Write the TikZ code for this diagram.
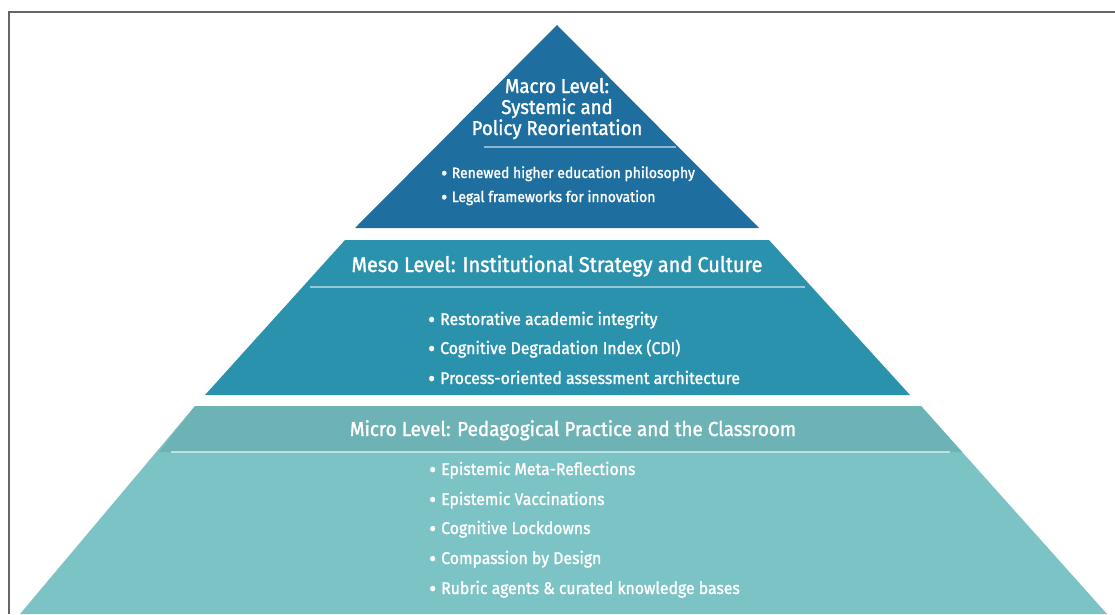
\documentclass[tikz,border=0pt]{standalone}
\usepackage{fontspec}
\setmainfont{Fira Sans}[FakeStretch=0.93,FakeBold=1.5]
\newcommand{\dotmark}{\raisebox{-0.14em}{\scalebox{1.35}{\textbullet}}\hspace{0.3em}}
\begin{document}
\begin{tikzpicture}[x=1pt,y=-1pt,
  title/.style={text=white,align=center,inner sep=0pt,anchor=base},
  item/.style={text=white,anchor=base west,inner sep=0pt},
  sepline/.style={line width=1.2pt}]
\definecolor{macroC}{HTML}{1E6F9F}
\definecolor{mesoC}{HTML}{2A92AD}
\definecolor{microHead}{HTML}{6DB2B5}
\definecolor{microBody}{HTML}{7CC3C5}
\definecolor{frameC}{HTML}{666666}
\useasboundingbox (0,0) rectangle (1115,614);
\fill[white] (0,0) rectangle (1115,614);
% outer frame
\draw[frameC,line width=2pt] (9,614) -- (9,12) -- (1115,12);

% macro level: top triangle
\fill[macroC] (557,25) -- (759,228) -- (355,228) -- cycle;
\node[title,font=\fontsize{20}{21}\selectfont] (macroT) at (557,135) {Macro Level:\\Systemic and\\Policy Reorientation};
\draw[sepline,color=macroC!50!white] (484,147) -- (676,147);
\node[item,font=\fontsize{15}{18}\selectfont] (macro1) at (441,178) {\dotmark Renewed higher education philosophy};
\node[item,font=\fontsize{15}{18}\selectfont] (macro2) at (441,202) {\dotmark Legal frameworks for innovation};

% meso level: middle band
\fill[mesoC] (345,240) -- (769,240) -- (910,395) -- (205,395) -- cycle;
\node[title,font=\fontsize{21.4}{24}\selectfont] (mesoT) at (557,272) {Meso Level: Institutional Strategy and Culture};
\draw[sepline,color=mesoC!50!white] (310,287) -- (805,287);
\node[item,font=\fontsize{17}{20}\selectfont] (meso1) at (428,325) {\dotmark Restorative academic integrity};
\node[item,font=\fontsize{17}{20}\selectfont] (meso2) at (428,354) {\dotmark Cognitive Degradation Index (CDI)};
\node[item,font=\fontsize{17}{20}\selectfont] (meso3) at (428,384) {\dotmark Process-oriented assessment architecture};

% micro level: bottom band
\fill[microBody] (195,406) -- (921,406) -- (1107,614) -- (20,614) -- cycle;
\fill[microHead] (195,406) -- (921,406) -- (962,452) -- (159,452) -- cycle;
\draw[sepline,color=microBody!50!white] (171,452) -- (950,452);
\node[title,font=\fontsize{20.3}{24}\selectfont] (microT) at (573,436) {Micro Level: Pedagogical Practice and the Classroom};
\node[item,font=\fontsize{17}{20}\selectfont] (micro1) at (429,475) {\dotmark Epistemic Meta-Reflections};
\node[item,font=\fontsize{17}{20}\selectfont] (micro2) at (429,505) {\dotmark Epistemic Vaccinations};
\node[item,font=\fontsize{17}{20}\selectfont] (micro3) at (429,534) {\dotmark Cognitive Lockdowns};
\node[item,font=\fontsize{17}{20}\selectfont] (micro4) at (429,564) {\dotmark Compassion by Design};
\node[item,font=\fontsize{17}{20}\selectfont] (micro5) at (429,594) {\dotmark Rubric agents \& curated knowledge bases};
\end{tikzpicture}
\end{document}
